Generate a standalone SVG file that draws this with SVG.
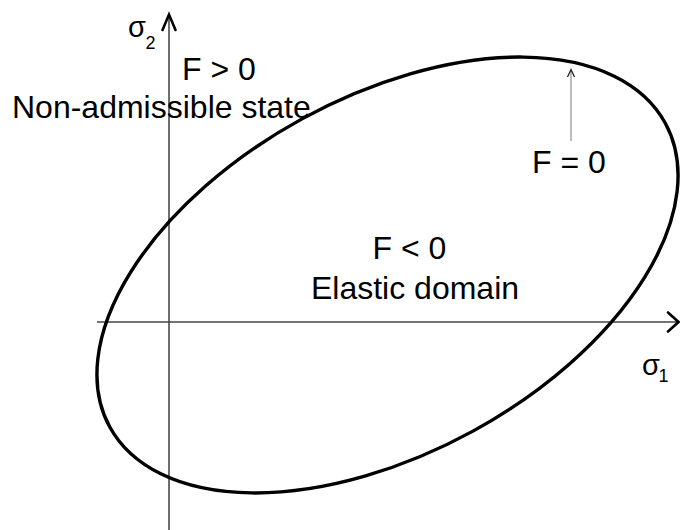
<svg xmlns="http://www.w3.org/2000/svg" width="680" height="530" viewBox="0 0 680 530">
<style>
text{font-family:"Liberation Sans",Arial,sans-serif;fill:#000}
.lbl{font-size:32px}
.sig{font-size:29px}
.sub{font-size:18px}
.head{fill:none;stroke:#000;stroke-width:2.6;stroke-linecap:round;stroke-linejoin:miter}
</style>
<rect width="680" height="530" fill="#fff"/>
<g id="axes">
<line x1="169" y1="530" x2="169" y2="15" stroke="#6e6e6e" stroke-width="2"/>
<polyline class="head" points="162.5,30 169,14.5 175.5,30"/>
<line x1="97" y1="322" x2="678" y2="322" stroke="#444" stroke-width="1.4"/>
<polyline class="head" points="668,312.5 678.5,322 668,331.5"/>
</g>
<g id="yield-surface">
<ellipse cx="387.5" cy="275" rx="316.6" ry="178" transform="rotate(-28.7 387.5 275)" fill="none" stroke="#000" stroke-width="3.4"/>
</g>
<g id="connectors">
<line x1="571" y1="141" x2="571" y2="70" stroke="#999" stroke-width="1.3"/>
<polyline points="567.5,77 571,69.5 574.5,77" fill="none" stroke="#222" stroke-width="1.3"/>
</g>
<g id="labels">
<text class="sig" x="128" y="37">σ</text><text class="sub" x="145.5" y="48.5">2</text>
<text class="sig" x="642" y="375">σ</text><text class="sub" x="658.5" y="382">1</text>
<text class="lbl" x="182" y="80">F &gt; 0</text>
<text class="lbl" x="12" y="118">Non-admissible state</text>
<text class="lbl" x="569" y="173" text-anchor="middle">F = 0</text>
<text class="lbl" x="409.5" y="259" text-anchor="middle">F &lt; 0</text>
<text class="lbl" x="415" y="299" text-anchor="middle">Elastic domain</text>
</g>
</svg>
